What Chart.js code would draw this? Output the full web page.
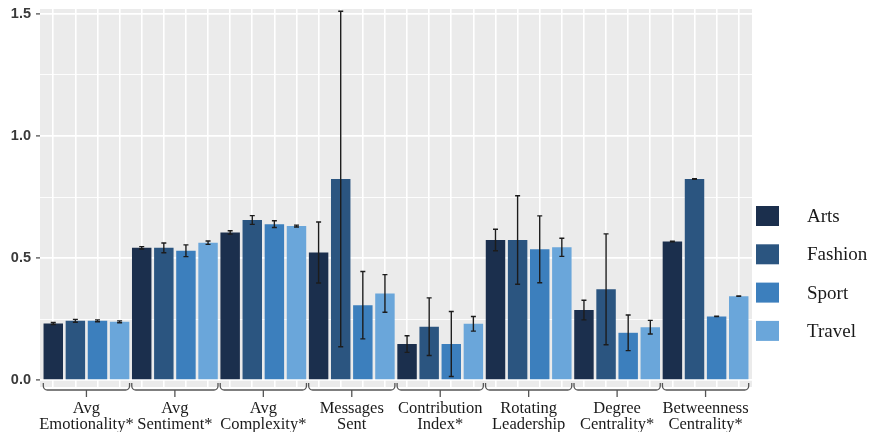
<!DOCTYPE html>
<html>
<head>
<meta charset="utf-8">
<script src="https://cdn.jsdelivr.net/npm/chart.js@4/dist/chart.umd.min.js"></script>
<style>
  html, body { margin: 0; padding: 0; background: #ffffff; }
  #wrap { width: 870px; height: 432px; }
</style>
</head>
<body>
<div id="wrap"><canvas id="c" width="870" height="432"></canvas></div>
<script>
// Team metrics by community, mean with error bars
const groupLabels = [
  ["Avg", "Emotionality*"],
  ["Avg", "Sentiment*"],
  ["Avg", "Complexity*"],
  ["Messages", "Sent"],
  ["Contribution", "Index*"],
  ["Rotating", "Leadership"],
  ["Degree", "Centrality*"],
  ["Betweenness", "Centrality*"]
];
const seriesNames = ["Arts", "Fashion", "Sport", "Travel"];

const arts    = [0.232, 0.542, 0.605, 0.523, 0.148, 0.574, 0.287, 0.568];
const fashion = [0.243, 0.542, 0.656, 0.824, 0.219, 0.574, 0.372, 0.824];
const sport   = [0.243, 0.530, 0.639, 0.307, 0.148, 0.536, 0.194, 0.261];
const travel  = [0.239, 0.563, 0.631, 0.355, 0.231, 0.544, 0.217, 0.344];

const artsErr    = [0.004, 0.005, 0.007, 0.125, 0.034, 0.044, 0.040, 0.001];
const fashionErr = [0.006, 0.020, 0.018, 0.687, 0.118, 0.181, 0.227, 0.001];
const sportErr   = [0.004, 0.024, 0.014, 0.138, 0.133, 0.137, 0.073, 0.001];
const travelErr  = [0.004, 0.007, 0.004, 0.077, 0.030, 0.037, 0.028, 0.001];

const yTickValues = [0, 0.25, 0.5, 0.75, 1, 1.25, 1.5];
const yMajorTicks = [0, 0.5, 1, 1.5];
const yTickText   = ["0.0", "0.5", "1.0", "1.5"];

const seriesColors = ["#1b2f4d", "#2b5580", "#3c7fbd", "#6aa6da"];
const seriesValues = [arts, fashion, sport, travel];
const seriesErrors = [artsErr, fashionErr, sportErr, travelErr];
const nSeries = seriesNames.length;
const nSlots = groupLabels.length * nSeries;

const datasets = seriesNames.map((name, s) => ({
  label: name,
  data: seriesValues[s].map((v, g) => ({ x: g * nSeries + s, y: v })),
  errors: seriesErrors[s],
  backgroundColor: seriesColors[s],
  borderWidth: 0,
  grouped: false,
  categoryPercentage: 1,
  barPercentage: 0.88
}));

// grey panel behind the plot
const panelBg = {
  id: 'panelBg',
  beforeDraw(chart) {
    const { ctx, chartArea: a } = chart;
    ctx.save();
    ctx.fillStyle = '#ebebeb';
    ctx.fillRect(a.left, a.top, a.right - a.left, a.bottom - a.top);
    ctx.restore();
  }
};

// mean +/- error whiskers
const errorBars = {
  id: 'errorBars',
  afterDatasetsDraw(chart) {
    const { ctx } = chart;
    const y = chart.scales.y;
    ctx.save();
    ctx.strokeStyle = '#1c1c1c';
    ctx.lineWidth = 1.4;
    chart.data.datasets.forEach((ds, di) => {
      const meta = chart.getDatasetMeta(di);
      meta.data.forEach((bar, i) => {
        const v = ds.data[i].y, e = ds.errors[i];
        const yt = y.getPixelForValue(v + e), yb = y.getPixelForValue(v - e);
        ctx.beginPath();
        ctx.moveTo(bar.x, yt); ctx.lineTo(bar.x, yb);
        ctx.moveTo(bar.x - 2.5, yt); ctx.lineTo(bar.x + 2.5, yt);
        ctx.moveTo(bar.x - 2.5, yb); ctx.lineTo(bar.x + 2.5, yb);
        ctx.stroke();
      });
    });
    ctx.restore();
  }
};

// curly brackets grouping the four bars of each metric
const groupBrackets = {
  id: 'groupBrackets',
  afterDraw(chart) {
    const { ctx, chartArea: a } = chart;
    const x = chart.scales.x;
    const yl = a.bottom + 3, r = 4;
    ctx.save();
    ctx.strokeStyle = '#555555';
    ctx.lineWidth = 1.3;
    groupLabels.forEach((_, g) => {
      const x0 = x.getPixelForValue(g * nSeries - 0.45);
      const x1 = x.getPixelForValue(g * nSeries + nSeries - 1 + 0.45);
      const xm = (x0 + x1) / 2;
      ctx.beginPath();
      ctx.moveTo(x0, yl - 7);
      ctx.arcTo(x0, yl, x0 + r, yl, r);
      ctx.arcTo(x1, yl, x1, yl - 7, r);
      ctx.lineTo(x1, yl - 7);
      ctx.moveTo(xm, yl);
      ctx.lineTo(xm, yl + 7);
      ctx.stroke();
    });
    ctx.restore();
  }
};

// legend to the right of the panel
const sideLegend = {
  id: 'sideLegend',
  afterDraw(chart) {
    const { ctx, chartArea: a } = chart;
    const left = a.right + 4, top = a.top + 197, step = 38.3;
    ctx.save();
    ctx.font = '19px "Liberation Serif", "Times New Roman", serif';
    ctx.textBaseline = 'middle';
    chart.data.datasets.forEach((ds, i) => {
      const ty = top + i * step;
      ctx.fillStyle = ds.backgroundColor;
      ctx.fillRect(left, ty, 23, 20);
      ctx.fillStyle = '#1a1a1a';
      ctx.fillText(ds.label, left + 51, ty + 11);
    });
    ctx.restore();
  }
};

new Chart(document.getElementById('c'), {
  type: 'bar',
  data: { datasets },
  options: {
    responsive: false,
    animation: false,
    layout: { padding: { top: 9, right: 118, left: 0, bottom: 0 } },
    plugins: { legend: { display: false }, tooltip: { enabled: false } },
    scales: {
      x: {
        type: 'linear',
        position: 'bottom',
        offset: false,
        min: -0.6,
        max: nSlots - 1 + 0.6,
        afterBuildTicks: (s) => { s.ticks = Array.from({ length: nSlots }, (_, i) => ({ value: i })); },
        ticks: { display: false },
        grid: { offset: false, color: '#ffffff', lineWidth: 1.6, drawTicks: false },
        border: { display: false },
        afterFit: (s) => { s.height = 0; s.paddingLeft = 0; s.paddingRight = 0; }
      },
      x2: {
        type: 'linear',
        position: 'bottom',
        offset: false,
        min: -0.6,
        max: nSlots - 1 + 0.6,
        afterBuildTicks: (s) => { s.ticks = groupLabels.map((_, g) => ({ value: g * nSeries + (nSeries - 1) / 2 })); },
        ticks: {
          autoSkip: false,
          maxRotation: 0,
          padding: 14,
          color: '#1a1a1a',
          font: { family: '"Liberation Serif", "Times New Roman", serif', size: 16.5, lineHeight: 0.97 },
          callback: (v, i) => groupLabels[i]
        },
        grid: { display: false, offset: false, drawTicks: false, tickLength: 0 },
        border: { display: false },
        afterFit: (s) => { s.height = 45; s.paddingLeft = 0; s.paddingRight = 0; }
      },
      y: {
        min: -0.028,
        max: 1.52,
        afterBuildTicks: (s) => { s.ticks = yTickValues.map(v => ({ value: v })); },
        ticks: {
          padding: 5,
          color: '#3a3a3a',
          font: { family: '"Liberation Sans", Arial, sans-serif', size: 14.5, weight: 'bold' },
          callback: (v) => { const k = yMajorTicks.indexOf(v); return k >= 0 ? yTickText[k] : ''; }
        },
        grid: {
          color: '#ffffff',
          lineWidth: (c) => (c.tick && yMajorTicks.includes(c.tick.value)) ? 1.8 : 0.9,
          tickColor: (c) => (c.tick && yMajorTicks.includes(c.tick.value)) ? '#444444' : 'rgba(0,0,0,0)',
          tickLength: 4,
          tickWidth: 1.2
        },
        border: { display: false },
        afterFit: (s) => { s.width = 40; s.paddingTop = 0; s.paddingBottom = 0; }
      }
    }
  },
  plugins: [panelBg, errorBars, groupBrackets, sideLegend]
});
</script>
</body>
</html>
